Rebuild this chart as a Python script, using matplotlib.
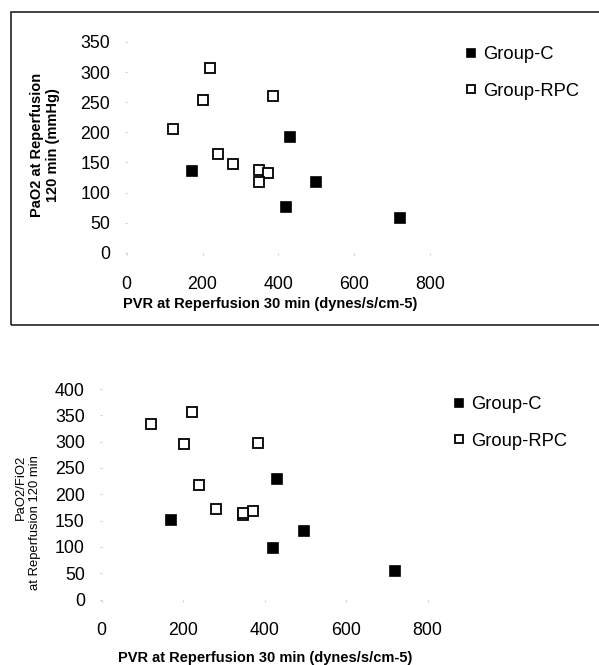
import matplotlib
matplotlib.use("Agg")
import matplotlib.pyplot as plt
from matplotlib.patches import Rectangle

plt.rcParams['font.family'] = ['Liberation Sans', 'DejaVu Sans']

# PVR at reperfusion 30 min (shared by both panels)
pvr_c = [430, 171, 498, 420, 720]
pvr_rpc = [221, 202, 385, 122, 240, 281, 348, 372, 348]

# top panel: PaO2 at reperfusion 120 min
pao2_c = [193, 136, 117, 76, 57]
pao2_rpc = [307, 254, 260, 205, 164, 147, 138, 133, 117]

# bottom panel: PaO2/FiO2 at reperfusion 120 min
ratio_c = [229, 152, 131, 98, 55]
ratio_rpc = [356, 296, 298, 334, 218, 172, 160, 168, 165]

x_ticks = [0, 200, 400, 600, 800]
y_ticks_top = [0, 50, 100, 150, 200, 250, 300, 350]
y_ticks_bot = [0, 50, 100, 150, 200, 250, 300, 350, 400]

W, H = 599, 665
fig = plt.figure(figsize=(W / 100, H / 100), dpi=100)


def px(x, y):
    return x / W, 1 - y / H


def panel(rect, xs_c, ys_c, xs_r, ys_r, yticks, ms, leg_xy):
    ax = fig.add_axes(rect)
    ax.plot(xs_c, ys_c, 's', ms=ms, mfc='black', mec='black', mew=1.2, ls='none', label='Group-C')
    ax.plot(xs_r, ys_r, 's', ms=ms, mfc='white', mec='black', mew=1.3, ls='none', label='Group-RPC')
    ax.set_xlim(0, 800)
    ax.set_ylim(0, yticks[-1])
    ax.set_xticks(x_ticks)
    ax.set_yticks(yticks)
    for s in ax.spines.values():
        s.set_visible(False)
    ax.tick_params(axis='x', length=1.5, color='#cccccc', pad=15, labelsize=12.8)
    ax.tick_params(axis='y', length=1.5, color='#cccccc', pad=10.5, labelsize=12.8)
    ax.legend(loc='upper left', bbox_to_anchor=px(*leg_xy), bbox_transform=fig.transFigure,
              frameon=False, fontsize=13.2, markerscale=0.85, handlelength=0.6,
              handletextpad=0.35, labelspacing=1.05, borderaxespad=0)
    return ax


# top panel (framed)
x0, y0 = px(126.7, 252.8)
x1, y1 = px(430, 42)
panel([x0, y0, x1 - x0, y1 - y0], pvr_c, pao2_c, pvr_rpc, pao2_rpc, y_ticks_top, 7.6, (458, 39))
fx, fy = px(11, 325)
fig.patches.append(Rectangle((fx, fy), 1.2, px(0, 12)[1] - fy, transform=fig.transFigure,
                             fill=False, ec='#222222', lw=1.2))
fig.text(*px(45, 145), 'PaO2 at Reperfusion\n120 min (mmHg)', rotation=90, ha='center', va='center',
         fontsize=10.5, fontweight='bold', linespacing=1.1)
fig.text(*px(270, 304), 'PVR at Reperfusion 30 min (dynes/s/cm-5)', ha='center', va='center',
         fontsize=10.5, fontweight='bold')

# bottom panel
x0, y0 = px(101.5, 599.5)
x1, y1 = px(427.5, 389)
panel([x0, y0, x1 - x0, y1 - y0], pvr_c, ratio_c, pvr_rpc, ratio_rpc, y_ticks_bot, 7.3, (446, 389))
fig.text(*px(28, 455), 'PaO2/FiO2\nat Reperfusion 120 min', rotation=90, ha='center', va='top',
         multialignment='right', fontsize=9.4, linespacing=1.2)
fig.text(*px(265, 658), 'PVR at Reperfusion 30 min (dynes/s/cm-5)', ha='center', va='center',
         fontsize=10.5, fontweight='bold')

fig.savefig('out.png', dpi=100)
